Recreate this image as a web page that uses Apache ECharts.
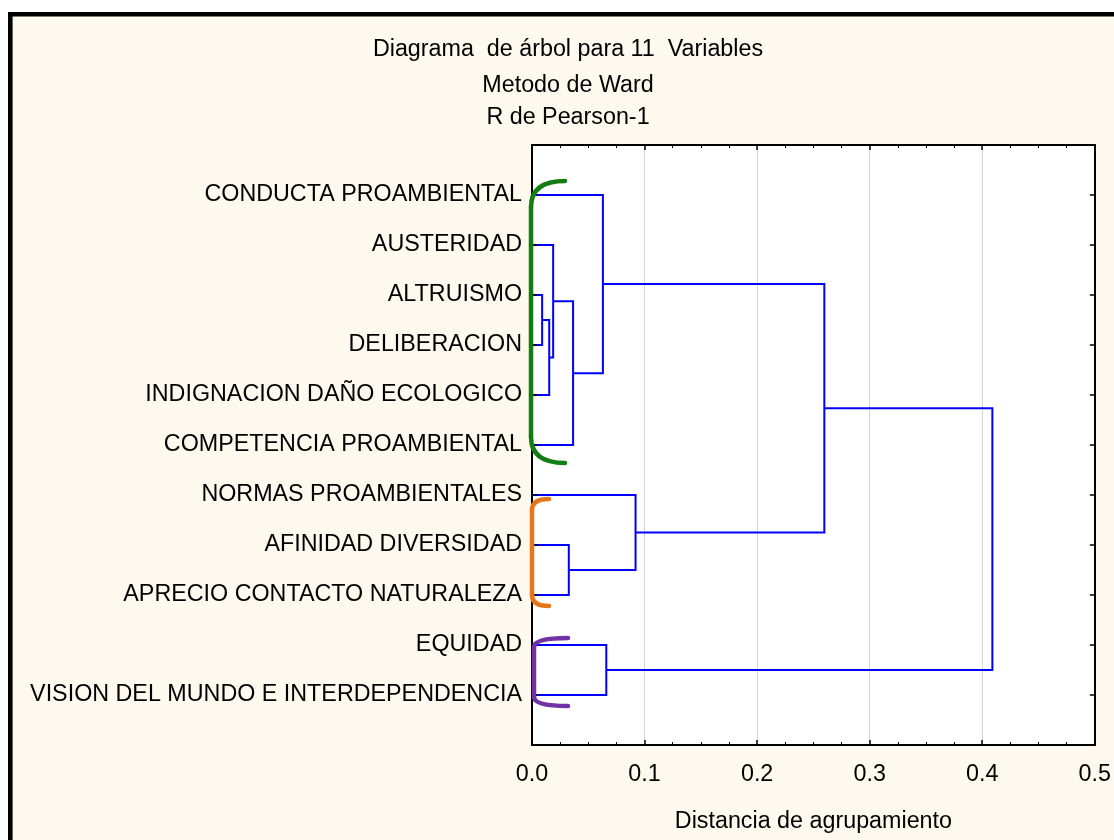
<!DOCTYPE html>
<html>
<head>
<meta charset="utf-8">
<script src="https://cdn.jsdelivr.net/npm/echarts@6/dist/echarts.min.js"></script>
<style>
html,body{margin:0;padding:0;background:#fff;}
#chart{width:1114px;height:840px;}
</style>
</head>
<body>
<div id="chart"></div>
<script>
// ---- data ----
const titleLines = ['Diagrama  de árbol para 11  Variables', 'Metodo de Ward', 'R de Pearson-1'];
const leafLabels = [
  'CONDUCTA PROAMBIENTAL',
  'AUSTERIDAD',
  'ALTRUISMO',
  'DELIBERACION',
  'INDIGNACION DAÑO ECOLOGICO',
  'COMPETENCIA PROAMBIENTAL',
  'NORMAS PROAMBIENTALES',
  'AFINIDAD DIVERSIDAD',
  'APRECIO CONTACTO NATURALEZA',
  'EQUIDAD',
  'VISION DEL MUNDO E INTERDEPENDENCIA'
];
// merges: [nodeA, nodeB, linkage distance]; nodes < 11 are leaves, 11+k is merge k
const mergeA = [2, 11, 1, 13, 0, 7, 6, 9, 15, 19];
const mergeB = [3, 4, 12, 5, 14, 8, 16, 10, 17, 18];
const mergeDist = [0.009, 0.0153, 0.0188, 0.0365, 0.063, 0.0327, 0.092, 0.066, 0.2597, 0.409];
const xTicks = [0, 0.1, 0.2, 0.3, 0.4, 0.5];
const xAxisName = 'Distancia de agrupamiento';
// cluster brackets: first leaf, last leaf (0-based)
const bracketFirst = [0, 6, 9];
const bracketLast = [5, 8, 10];

// ---- styles ----
const FONT = 'Liberation Sans, Arial, sans-serif';
const bracketStyle = [
  {color: '#137d13', top: -14, bottom: 18, xv: -1, xe: 33, r: 26},
  {color: '#e5761a', top: 4, bottom: 11, xv: 0, xe: 17, r: 11},
  {color: '#7133a3', top: -7, bottom: 11, xv: 2, xe: 36, r: 9}
];

// ---- layout of dendrogram nodes from merges ----
const nLeaf = leafLabels.length;
const nodeY = leafLabels.map((_, i) => i + 1);
const nodeH = leafLabels.map(() => 0);
mergeA.forEach((a, k) => {
  const b = mergeB[k];
  nodeY.push((nodeY[a] + nodeY[b]) / 2);
  nodeH.push(mergeDist[k]);
});

const chart = echarts.init(document.getElementById('chart'));

const xMin = xTicks[0], xMax = xTicks[xTicks.length - 1];
const noTick = {show: false};
// Plain axes draw the frame; extra axes carry inward-pointing ticks via a negative offset
function xFrame(pos, extra) {
  return Object.assign({
    type: 'value', position: pos, min: xMin, max: xMax, interval: 0.1,
    axisLine: {show: true, onZero: false, lineStyle: {color: '#000', width: 2}},
    axisTick: noTick, axisLabel: {show: false}, splitLine: {show: false}
  }, extra || {});
}
function xTickAxis(pos, major) {
  return {
    type: 'value', position: pos, min: xMin, max: xMax, interval: 0.1,
    offset: major ? -5 : -3, z: 10,
    axisLine: {show: false, onZero: false},
    axisTick: major ? {show: true, length: 5, lineStyle: {color: '#000', width: 1.5}} : noTick,
    minorTick: major ? {show: false} : {show: true, splitNumber: 4, length: 3, lineStyle: {color: '#000', width: 1}},
    axisLabel: {show: false}, splitLine: {show: false}
  };
}
function yFrame(pos, extra) {
  return Object.assign({
    type: 'value', position: pos, min: 0, max: nLeaf + 1, interval: 1, inverse: true,
    axisLine: {show: true, onZero: false, lineStyle: {color: '#000', width: 2}},
    axisTick: noTick, axisLabel: {show: false}, splitLine: {show: false}
  }, extra || {});
}
function yTickAxis(pos) {
  return {
    type: 'value', position: pos, min: 0, max: nLeaf + 1, interval: 1, inverse: true,
    offset: -5, z: 10,
    axisLine: {show: false, onZero: false},
    axisTick: {show: true, length: 5, lineStyle: {color: '#000', width: 1.5}},
    axisLabel: {show: false}, splitLine: {show: false}
  };
}

const option = {
  backgroundColor: '#ffffff',
  animation: false,
  textStyle: {fontFamily: FONT},
  graphic: [{
    type: 'rect', z: -10, silent: true,
    shape: {x: 10.3, y: 14.3, width: 1300, height: 1000},
    style: {fill: '#fef9ee', stroke: '#000', lineWidth: 4.6}
  }],
  title: titleLines.map((t, i) => ({
    text: t, left: 568, top: [38, 74, 106][i], textAlign: 'center', padding: 0,
    textStyle: {fontSize: 23.3, fontWeight: 'normal', color: '#000', fontFamily: FONT}
  })),
  grid: {
    left: 532, right: 16, top: 145, bottom: 95,
    show: true, backgroundColor: '#ffffff', borderWidth: 0
  },
  xAxis: [
    xFrame('bottom', {
      name: xAxisName, nameLocation: 'middle', nameGap: 65,
      nameTextStyle: {fontSize: 23.3, color: '#000', fontFamily: FONT},
      axisLabel: {show: true, fontSize: 23.3, color: '#000', margin: 18, fontFamily: FONT,
        formatter: v => v.toFixed(1)},
      splitLine: {show: true, lineStyle: {color: '#d4d4d4', width: 1}}
    }),
    xFrame('top'),
    xTickAxis('bottom', true), xTickAxis('bottom', false),
    xTickAxis('top', true), xTickAxis('top', false)
  ],
  yAxis: [
    yFrame('left', {
      axisLabel: {show: true, fontSize: 23.3, color: '#000', margin: 10, fontFamily: FONT,
        formatter: v => leafLabels[v - 1] || ''}
    }),
    yFrame('right'),
    yTickAxis('left'), yTickAxis('right')
  ],
  series: [{
    type: 'custom',
    xAxisIndex: 0, yAxisIndex: 0,
    clip: false, silent: true, z: 2,
    data: mergeDist.map((d, k) => [d, nodeY[nLeaf + k]]),
    renderItem: function (params, api) {
      const k = params.dataIndex;
      const a = mergeA[k], b = mergeB[k], h = mergeDist[k];
      const pts = [
        [nodeH[a], nodeY[a]], [h, nodeY[a]], [h, nodeY[b]], [nodeH[b], nodeY[b]]
      ].map(p => api.coord(p));
      return {
        type: 'polyline',
        shape: {points: pts},
        style: {stroke: '#0000ff', lineWidth: 2, fill: null}
      };
    }
  }, {
    type: 'custom',
    xAxisIndex: 0, yAxisIndex: 0,
    clip: false, silent: true, z: 20,
    data: bracketFirst.map((f, i) => [0, (f + bracketLast[i]) / 2 + 1]),
    renderItem: function (params, api) {
      const i = params.dataIndex;
      const s = bracketStyle[i];
      const p0 = api.coord([0, bracketFirst[i] + 1]);
      const p1 = api.coord([0, bracketLast[i] + 1]);
      const xv = p0[0] + s.xv, xe = p0[0] + s.xe;
      const yt = p0[1] + s.top, yb = p1[1] + s.bottom;
      const st = {stroke: s.color, lineWidth: 4.5, fill: null, lineCap: 'round'};
      return {
        type: 'group',
        children: [
          {type: 'bezierCurve', shape: {x1: xe, y1: yt, x2: xv, y2: yt + s.r, cpx1: xv, cpy1: yt}, style: st},
          {type: 'line', shape: {x1: xv, y1: yt + s.r, x2: xv, y2: yb - s.r}, style: st},
          {type: 'bezierCurve', shape: {x1: xv, y1: yb - s.r, x2: xe, y2: yb, cpx1: xv, cpy1: yb}, style: st}
        ]
      };
    }
  }]
};
chart.setOption(option);
</script>
</body>
</html>
